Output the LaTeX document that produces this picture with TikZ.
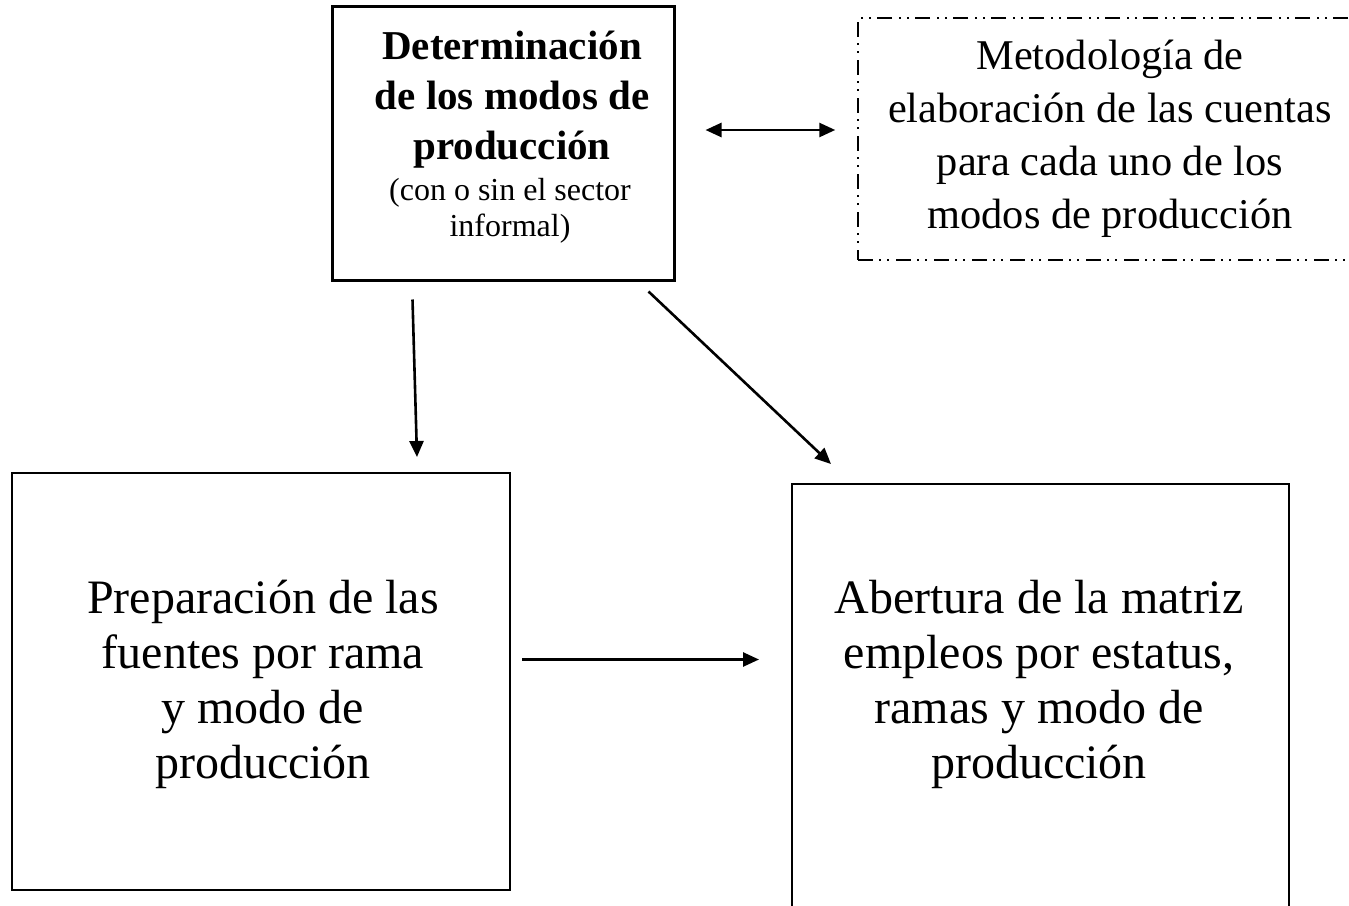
\documentclass[tikz,border=0pt]{standalone}
\usepackage{fontspec}
\setmainfont{Liberation Serif}
\usetikzlibrary{arrows.meta,calc}
\begin{document}
\begin{tikzpicture}[x=1pt,y=-1pt,
  boxthick/.style={draw=black,line width=3pt,rectangle,inner sep=0pt},
  boxthin/.style={draw=black,line width=2pt,rectangle,inner sep=0pt},
  boxdash/.style={draw=black,line width=1.5pt,rectangle,inner sep=0pt,
    dash pattern=on 15pt off 6pt on 2pt off 6pt on 2pt off 7pt},
  txt/.style={align=center,inner sep=0pt},
  conn/.style={line width=2.6pt,-{Triangle[length=16pt,width=14pt]}},
  conn2/.style={line width=2.6pt,{Triangle[length=16pt,width=14pt]}-{Triangle[length=16pt,width=14pt]}}
]
\useasboundingbox (0,0) rectangle (1349,905);
\clip (0,0) rectangle (1349,905);

% boxes
\node[boxthick,minimum width=342pt,minimum height=274pt] (det) at (503,143) {};
\node[boxdash,minimum width=504pt,minimum height=242pt] (met) at (1110,139) {};
\node[boxthin,minimum width=498pt,minimum height=417pt] (prep) at (261,681.5) {};
\node[boxthin,minimum width=497pt,minimum height=441pt] (abe) at (1040.5,704.5) {};

% texts
\node[txt,font=\fontsize{41}{50}\selectfont\bfseries] (dett) at (512,100) {Determinación\\de los modos de\\producción};
\node[txt,font=\fontsize{32}{36}\selectfont] (dets) at (510,211) {(con o sin el sector\\informal)};
\node[txt,font=\fontsize{42.4}{53}\selectfont] (mett) at (1110,139) {Metodología de\\elaboración de las cuentas\\para cada uno de los\\modos de producción};
\node[txt,font=\fontsize{48}{55}\selectfont] (prept) at (263,684) {Preparación de las\\fuentes por rama\\y modo de\\producción};
\node[txt,font=\fontsize{48}{55}\selectfont] (abet) at (1039,684) {Abertura de la matriz\\empleos por estatus,\\ramas y modo de\\producción};

% connector end points
\coordinate (d1) at ($(det.south west)+(82,18)$);
\coordinate (p1) at ($(prep.north west)+(406,-15)$);
\coordinate (d2) at ($(det.south west)+(318,10)$);
\coordinate (a2) at ($(abe.north west)+(40,-19)$);
\coordinate (p3) at ($(prep.east)+(11,-22)$);
\coordinate (a3) at ($(abe.west)+(-32,-45)$);
\coordinate (d4) at ($(det.east)+(30,-13)$);
\coordinate (m4) at ($(met.west)+(-22,-9)$);

\draw[conn] (d1) -- (p1);
\draw[conn] (d2) -- (a2);
\draw[conn] (p3) -- (a3);
\draw[conn2] (d4) -- (m4);
\end{tikzpicture}
\end{document}
